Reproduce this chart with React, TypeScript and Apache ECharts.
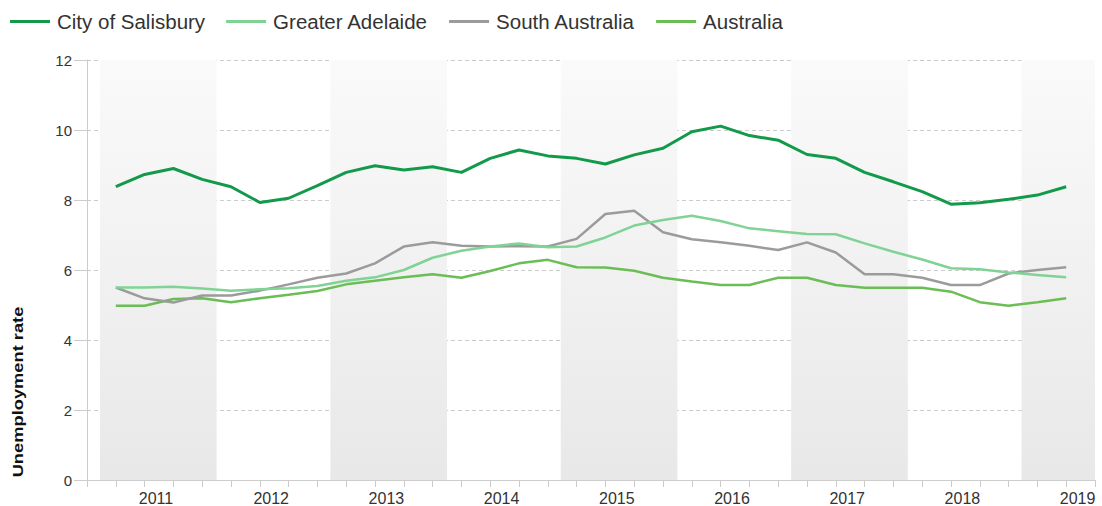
import React, { useEffect, useRef } from "react";
import * as echarts from "echarts";

const years = ["2011", "2012", "2013", "2014", "2015", "2016", "2017", "2018", "2019"];
const yTicks = { min: 0, max: 12, interval: 2 };

const salisbury = [8.38, 8.73, 8.9, 8.59, 8.38, 7.93, 8.05, 8.41, 8.79, 8.98, 8.86, 8.95, 8.79, 9.19, 9.43, 9.26, 9.19, 9.03, 9.29, 9.48, 9.95, 10.11, 9.84, 9.71, 9.3, 9.19, 8.79, 8.52, 8.24, 7.88, 7.92, 8.02, 8.14, 8.38];
const greaterAdelaide = [5.5, 5.5, 5.52, 5.47, 5.41, 5.45, 5.48, 5.54, 5.69, 5.79, 6.0, 6.35, 6.55, 6.67, 6.76, 6.65, 6.67, 6.93, 7.27, 7.43, 7.55, 7.4, 7.19, 7.11, 7.03, 7.02, 6.76, 6.52, 6.3, 6.05, 6.02, 5.93, 5.86, 5.79];
const southAustralia = [5.5, 5.19, 5.07, 5.27, 5.27, 5.41, 5.59, 5.78, 5.9, 6.19, 6.67, 6.79, 6.69, 6.67, 6.68, 6.67, 6.89, 7.6, 7.69, 7.08, 6.88, 6.79, 6.69, 6.57, 6.79, 6.5, 5.88, 5.88, 5.78, 5.57, 5.57, 5.9, 6.0, 6.08];
const australia = [4.98, 4.98, 5.17, 5.19, 5.08, 5.19, 5.29, 5.4, 5.59, 5.69, 5.79, 5.88, 5.78, 5.97, 6.19, 6.29, 6.08, 6.07, 5.98, 5.78, 5.67, 5.57, 5.57, 5.78, 5.78, 5.57, 5.49, 5.49, 5.49, 5.38, 5.08, 4.98, 5.08, 5.19];

const seriesNames = ["City of Salisbury", "Greater Adelaide", "South Australia", "Australia"];
const seriesColors = ["#12994a", "#80d394", "#9b9b9b", "#6bbd55"];
const seriesData = [salisbury, greaterAdelaide, southAustralia, australia];

const X_MAX = salisbury.length + 1;

export default function App() {
  const ref = useRef<HTMLDivElement>(null);
  useEffect(() => {
    if (!ref.current) return;
    const chart = echarts.init(ref.current, null, { renderer: "svg" });
    const font = "'Liberation Sans', Arial, sans-serif";
    const bandColor = {
      type: "linear", x: 0, y: 0, x2: 0, y2: 1,
      colorStops: [{ offset: 0, color: "#fafafa" }, { offset: 1, color: "#e8e8e8" }],
    };
    const bands: any[] = [];
    years.forEach((_, k) => {
      if (k % 2 === 0) {
        bands.push([
          { xAxis: 0.45 + 4 * k, itemStyle: { color: bandColor } },
          { xAxis: Math.min(4.5 + 4 * k, X_MAX) },
        ]);
      }
    });
    const option: any = {
      animation: false,
      textStyle: { fontFamily: font },
      grid: { left: 87, right: 7, top: 60, bottom: 26 },
      legend: {
        data: seriesNames,
        left: 5,
        top: 6,
        icon: "rect",
        itemWidth: 40,
        itemHeight: 3,
        itemGap: 21,
        textStyle: { fontSize: 20.5, color: "#333", fontFamily: font, padding: [0, 0, 0, 2] },
      },
      xAxis: [
        {
          type: "value",
          min: 0,
          max: X_MAX,
          interval: 1,
          axisLine: { show: true, lineStyle: { color: "#cccccc" } },
          axisTick: { show: true, length: 7, lineStyle: { color: "#cccccc" } },
          axisLabel: { show: false },
          splitLine: { show: false },
        },
        {
          type: "value",
          min: 0,
          max: X_MAX,
          interval: 0.5,
          position: "bottom",
          axisLine: { show: false },
          axisTick: { show: false },
          splitLine: { show: false },
          axisLabel: {
            margin: 10,
            fontSize: 16,
            color: "#333",
            fontFamily: font,
            padding: [0, 6, 0, 0],
            formatter: (v: number) => {
              const k = (v - 2.5) / 4;
              return Number.isInteger(k) && k >= 0 && k < years.length ? years[k] : "";
            },
          },
        },
      ],
      yAxis: {
        type: "value",
        min: yTicks.min,
        max: yTicks.max,
        interval: yTicks.interval,
        axisLine: { show: true, lineStyle: { color: "#cccccc" } },
        axisTick: { show: true, length: 13, lineStyle: { color: "#cccccc" } },
        axisLabel: { fontSize: 15, color: "#333", margin: 15, fontFamily: font },
        splitLine: { show: true, lineStyle: { color: "#cccccc", type: [4, 3] } },
      },
      graphic: [
        {
          type: "text",
          x: 18,
          y: 392,
          rotation: Math.PI / 2,
          scaleX: 1.22,
          style: {
            text: "Unemployment rate",
            font: `bold 15px ${font}`,
            fill: "#111",
            align: "center",
            verticalAlign: "middle",
          },
        },
      ],
      series: [
        {
          type: "line",
          name: "bands",
          xAxisIndex: 0,
          data: [],
          z: -1,
          silent: true,
          markArea: { silent: true, data: bands },
        },
        ...seriesNames.map((name, i) => ({
          type: "line",
          name,
          xAxisIndex: 0,
          z: 3 + (3 - i),
          data: seriesData[i].map((v, j) => [j + 1, v]),
          showSymbol: false,
          symbol: "none",
          color: seriesColors[i],
          lineStyle: { width: i === 0 ? 3 : 2.5, color: seriesColors[i] },
        })),
      ],
    };
    chart.setOption(option);
    return () => chart.dispose();
  }, []);
  return <div ref={ref} style={{ width: 1102, height: 506, position: "absolute", left: 0, top: 0 }} />;
}
